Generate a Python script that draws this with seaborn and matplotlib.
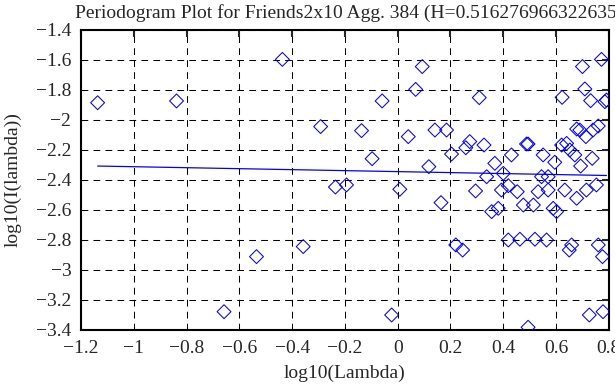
import matplotlib
matplotlib.use("Agg")
import matplotlib.pyplot as plt
import seaborn as sns
import pandas as pd

# log10 of frequency and log10 of periodogram value
log_lambda = [-1.137, -0.838, -0.658, -0.535, -0.437, -0.358, -0.292, -0.236, -0.194,
              -0.137, -0.097, -0.059, -0.023, 0.008, 0.040, 0.068, 0.093, 0.118, 0.141,
              0.164, 0.185, 0.204, 0.220, 0.246, 0.258, 0.273, 0.295, 0.309, 0.327,
              0.337, 0.356, 0.368, 0.381, 0.393, 0.400, 0.419, 0.419, 0.431, 0.453,
              0.463, 0.476, 0.488, 0.494, 0.494, 0.514, 0.520, 0.532, 0.545, 0.551,
              0.564, 0.570, 0.570, 0.589, 0.595, 0.602, 0.621, 0.623, 0.633, 0.640,
              0.650, 0.652, 0.659, 0.671, 0.678, 0.678, 0.690, 0.693, 0.700, 0.709,
              0.713, 0.715, 0.726, 0.731, 0.737, 0.740, 0.753, 0.760, 0.760, 0.772,
              0.776, 0.778, 0.785, 0.791]
log_period = [-1.885, -1.873, -3.278, -2.911, -1.596, -2.844, -2.044, -2.447, -2.433,
              -2.071, -2.258, -1.873, -3.300, -2.462, -2.111, -1.796, -1.644, -2.311, -2.067,
              -2.551, -2.067, -2.227, -2.833, -2.867, -2.185, -2.144, -2.473, -1.851, -2.167,
              -2.378, -2.611, -2.289, -2.589, -2.467, -2.356, -2.438, -2.800, -2.233, -2.478,
              -2.795, -2.567, -2.160, -2.160, -3.382, -2.567, -2.795, -2.478, -2.378, -2.233,
              -2.800, -2.467, -2.378, -2.589, -2.282, -2.611, -2.167, -1.849, -2.467, -2.156,
              -2.867, -2.200, -2.833, -2.233, -2.522, -2.060, -2.067, -2.307, -1.644, -1.793,
              -2.111, -2.467, -3.300, -1.871, -2.256, -2.067, -2.433, -2.040, -2.833, -1.596,
              -2.911, -3.278, -1.878, -1.867]

# fitted regression line ends
fit_x = [-1.137, 0.791]
fit_y = [-2.307, -2.370]

x_ticks = [-1.2, -1, -0.8, -0.6, -0.4, -0.2, 0, 0.2, 0.4, 0.6, 0.8]
x_tick_labels = ["\u22121.2", "\u22121", "\u22120.8", "\u22120.6", "\u22120.4", "\u22120.2",
                 "0", "0.2", "0.4", "0.6", "0.8"]
y_ticks = [-3.4, -3.2, -3, -2.8, -2.6, -2.4, -2.2, -2, -1.8, -1.6, -1.4]
y_tick_labels = ["\u22123.4", "\u22123.2", "\u22123", "\u22122.8", "\u22122.6", "\u22122.4",
                 "\u22122.2", "\u22122", "\u22121.8", "\u22121.6", "\u22121.4"]

df = pd.DataFrame({"log_lambda": log_lambda, "log_period": log_period})

sns.set_style("white")
plt.rcParams['font.family'] = ['Liberation Serif', 'DejaVu Serif']
plt.rcParams['font.size'] = 14

fig = plt.figure(figsize=(6.15, 3.85), dpi=100)
ax = fig.add_axes([0.1317, 0.1429, 0.8583, 0.7792])

sns.scatterplot(data=df, x='log_lambda', y='log_period', ax=ax,
                marker='D', s=50, facecolors='none', edgecolor='blue',
                linewidth=0.75, zorder=3)
sns.lineplot(x=fit_x, y=fit_y, ax=ax, color='blue', linewidth=0.9, zorder=3)

ax.set_xlim(-1.2, 0.8)
ax.set_ylim(-3.4, -1.4)
ax.set_xticks(x_ticks)
ax.set_xticklabels(x_tick_labels)
ax.set_yticks(y_ticks)
ax.set_yticklabels(y_tick_labels)
ax.tick_params(direction='in', length=5, width=1.5, top=True, right=True,
               labelsize=14)
ax.tick_params(axis='x', pad=7)
ax.tick_params(axis='y', pad=7)
ax.grid(True, color='black', linestyle=(0, (6.5, 5)), linewidth=0.75)
for sp in ax.spines.values():
    sp.set_linewidth(1.5)
    sp.set_color('black')

ax.set_xlabel('log10(Lambda)', fontsize=14, labelpad=6)
ax.set_ylabel('log10(I(lambda))', fontsize=14)
ax.yaxis.set_label_coords(-0.113, 0.5)
fig.text(0.568, 0.99, 'Periodogram Plot for Friends2x10 Agg. 384 (H=0.516276966322635)',
         ha='center', va='top', fontsize=14)

fig.savefig('out.png', dpi=100)
